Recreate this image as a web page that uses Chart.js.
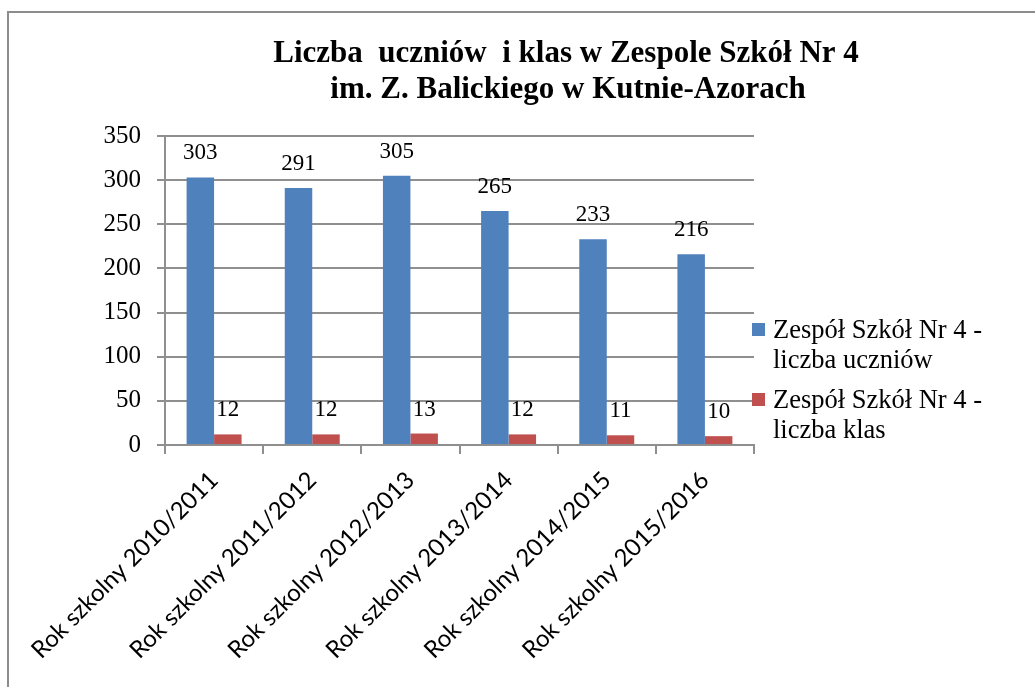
<!DOCTYPE html>
<html>
<head>
<meta charset="utf-8">
<script src="https://cdn.jsdelivr.net/npm/chart.js@4/dist/chart.umd.min.js"></script>
<style>
  html, body { margin: 0; padding: 0; background: #fff; overflow: hidden; }
  canvas { display: block; }
</style>
</head>
<body>
<canvas id="schoolChart" width="1035" height="687"></canvas>
<script>
// data
const categories = [
  'Rok szkolny 2010/2011',
  'Rok szkolny 2011/2012',
  'Rok szkolny 2012/2013',
  'Rok szkolny 2013/2014',
  'Rok szkolny 2014/2015',
  'Rok szkolny 2015/2016'
];
const pupils = [303, 291, 305, 265, 233, 216];
const classes = [12, 12, 13, 12, 11, 10];
const seriesNames = [
  ['Zespół Szkół Nr 4 -', 'liczba uczniów'],
  ['Zespół Szkół Nr 4 -', 'liczba klas']
];
const titleLines = [
  'Liczba  uczniów  i klas w Zespole Szkół Nr 4',
  'im. Z. Balickiego w Kutnie-Azorach'
];
const yMin = 0, yMax = 350, yStep = 50;

const serif = '"Liberation Serif", "Times New Roman", serif';
const gridGrey = '#8f8f8f';

Chart.defaults.font.family = serif;

// border, title, legend and value labels
const decorPlugin = {
  id: 'decor',
  beforeDraw(chart) {
    const c = chart.ctx;
    c.save();
    c.fillStyle = '#fff';
    c.fillRect(0, 0, chart.width, chart.height);
    c.strokeStyle = '#8c8c8c';
    c.lineWidth = 2;
    c.strokeRect(8, 12, chart.width + 20, chart.height + 20);
    c.restore();
  },
  afterDatasetsDraw(chart) {
    const c = chart.ctx;
    c.save();
    c.font = '23px ' + serif;
    c.fillStyle = '#000';
    c.textAlign = 'center';
    c.textBaseline = 'alphabetic';
    chart.data.datasets.forEach((ds, i) => {
      chart.getDatasetMeta(i).data.forEach((bar, j) => {
        c.fillText(String(ds.data[j]), bar.x, bar.y - 18);
      });
    });
    c.restore();
  },
  afterDraw(chart) {
    const c = chart.ctx;
    c.save();
    // title
    c.fillStyle = '#000';
    c.font = 'bold 31px ' + serif;
    c.textAlign = 'center';
    c.textBaseline = 'alphabetic';
    c.fillText(titleLines[0], 566, 62);
    c.fillText(titleLines[1], 568, 98);

    // legend
    const lx = chart.chartArea.right - 2;
    c.font = '26.5px ' + serif;
    c.textAlign = 'left';
    c.textBaseline = 'middle';
    chart.data.datasets.forEach((ds, i) => {
      const top = 323 + i * 70;
      c.fillStyle = ds.backgroundColor;
      c.fillRect(lx, top, 13, 13);
      c.fillStyle = '#000';
      seriesNames[i].forEach((line, k) => {
        c.fillText(line, lx + 21, top + 8 + k * 30);
      });
    });
    c.restore();
  }
};

const ctx = document.getElementById('schoolChart').getContext('2d');
const schoolChart = new Chart(ctx, {
  type: 'bar',
  data: {
    labels: categories,
    datasets: [
      { label: seriesNames[0].join(' '), data: pupils, backgroundColor: '#4F81BD' },
      { label: seriesNames[1].join(' '), data: classes, backgroundColor: '#C0504D' }
    ]
  },
  options: {
    responsive: false,
    animation: false,
    devicePixelRatio: 1,
    layout: { padding: { top: 136, right: 281, left: 0, bottom: 0 } },
    datasets: { bar: { categoryPercentage: 0.56, barPercentage: 1 } },
    plugins: {
      legend: { display: false },
      title: { display: false },
      tooltip: { enabled: false }
    },
    scales: {
      x: {
        afterFit: s => { s.height = 242; },
        grid: { drawOnChartArea: false, drawTicks: true, tickLength: 9, color: gridGrey, lineWidth: 2 },
        border: { color: gridGrey, width: 2 },
        ticks: {
          minRotation: 45, maxRotation: 45, padding: 12,
          color: '#000',
          font: { family: 'Lato, sans-serif', size: 24 }
        }
      },
      y: {
        min: yMin, max: yMax,
        afterFit: s => { s.width = 165; },
        grid: { color: gridGrey, lineWidth: 2, tickLength: 8 },
        border: { color: gridGrey, width: 2 },
        ticks: {
          stepSize: yStep, padding: 16,
          color: '#000',
          font: { family: serif, size: 25 }
        }
      }
    }
  },
  plugins: [decorPlugin]
});
</script>
</body>
</html>
